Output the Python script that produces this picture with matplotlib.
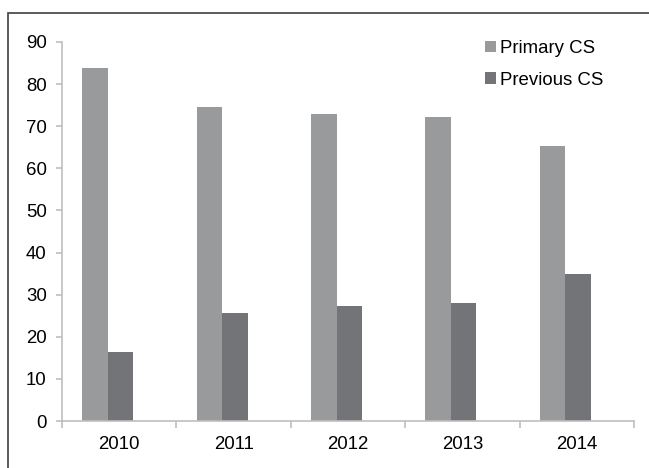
import matplotlib
matplotlib.use("Agg")
import matplotlib.pyplot as plt
from matplotlib.patches import Rectangle, Patch
import numpy as np

years = ["2010", "2011", "2012", "2013", "2014"]
primary_cs = [83.8, 74.6, 72.9, 72.2, 65.3]
previous_cs = [16.4, 25.6, 27.3, 28.0, 34.9]
series_names = ["Primary CS", "Previous CS"]
y_ticks = [0, 10, 20, 30, 40, 50, 60, 70, 80, 90]

c_primary = "#999a9c"
c_previous = "#737477"
axis_gray = "#bfbfbf"
fs = 13.4

plt.rcParams["font.family"] = ["Liberation Sans", "DejaVu Sans"]

fig = plt.figure(figsize=(6.49, 4.68), dpi=100)
ax = fig.add_axes([62 / 649, 1 - 421 / 468, (634 - 62) / 649, (421 - 42) / 468])

x = np.arange(len(years))
w = 0.223
ax.bar(x - 0.212, primary_cs, width=w, color=c_primary, label=series_names[0], zorder=2)
ax.bar(x + 0.011, previous_cs, width=w, color=c_previous, label=series_names[1], zorder=2)

ax.set_xlim(-0.5, len(years) - 0.5)
ax.set_ylim(0, 90)
ax.set_yticks(y_ticks)
ax.set_xticks(x)
ax.set_xticklabels(years)
ax.set_xticks(np.arange(len(years) + 1) - 0.5, minor=True)

for s in ["top", "right"]:
    ax.spines[s].set_visible(False)
for s in ["left", "bottom"]:
    ax.spines[s].set_color(axis_gray)
    ax.spines[s].set_linewidth(1.2)

ax.tick_params(axis="y", which="major", length=4, width=1.2, color=axis_gray,
               labelsize=fs, pad=7, direction="out")
ax.tick_params(axis="x", which="major", length=0, labelsize=fs, pad=11)
ax.tick_params(axis="x", which="minor", length=5, width=1.2, color=axis_gray, direction="out")

handles = [Patch(facecolor=c_primary, edgecolor="none"),
           Patch(facecolor=c_previous, edgecolor="none")]
fig.legend(handles, series_names, loc="upper left",
           bbox_to_anchor=(485 / 649, 1 - 40 / 468), frameon=False,
           fontsize=fs, handlelength=0.6, handleheight=0.55,
           handletextpad=0.2, labelspacing=0.78, borderaxespad=0, borderpad=0)

# outer chart frame
fig.patches.append(Rectangle((8 / 649, -0.1), 1.2, 1 - 13 / 468 + 0.1,
                             transform=fig.transFigure, fill=False,
                             edgecolor="#404040", linewidth=1.2))

fig.savefig("out.png", dpi=100)
